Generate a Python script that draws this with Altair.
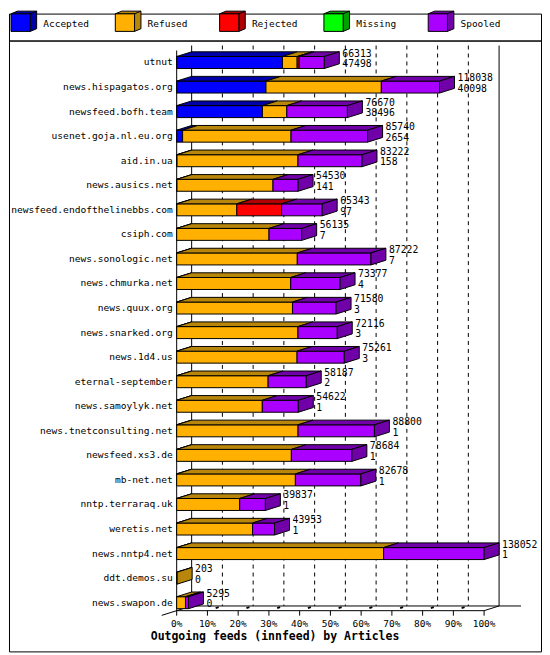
import pandas as pd
import altair as alt

# Outgoing innfeed peers, top to bottom
servers = [
    "utnut", "news.hispagatos.org", "newsfeed.bofh.team", "usenet.goja.nl.eu.org",
    "aid.in.ua", "news.ausics.net", "newsfeed.endofthelinebbs.com", "csiph.com",
    "news.sonologic.net", "news.chmurka.net", "news.quux.org", "news.snarked.org",
    "news.1d4.us", "eternal-september", "news.samoylyk.net", "news.tnetconsulting.net",
    "newsfeed.xs3.de", "mb-net.net", "nntp.terraraq.uk", "weretis.net",
    "news.nntp4.net", "ddt.demos.su", "news.swapon.de",
]
offered = [66313, 118038, 76670, 85740, 83222, 54530, 65343, 56135, 87222, 73377, 71580,
           72116, 75261, 58187, 54622, 88800, 78684, 82678, 39837, 43953, 138052, 203, 5295]
accepted = [47498, 40098, 38496, 2654, 158, 141, 97, 7, 7, 4, 3,
            3, 3, 2, 1, 1, 1, 1, 1, 1, 1, 0, 0]
refused = [6600, 51800, 10950, 48700, 54300, 43100, 26900, 41450, 54150, 51200, 52000,
           54450, 54050, 41050, 38450, 54500, 51500, 53300, 28280, 34050, 92900, 203, 3950]
rejected = [900, 0, 0, 0, 0, 0, 20100, 0, 0, 0, 0,
            0, 0, 0, 0, 0, 0, 0, 0, 0, 0, 0, 0]
missing = [0, 0, 0, 0, 0, 0, 0, 0, 0, 0, 0,
           0, 0, 0, 0, 0, 0, 0, 0, 0, 0, 0, 0]
spooled = [11315, 26140, 27224, 34386, 28764, 11289, 18246, 14678, 33065, 22173, 19577,
           17663, 21208, 17135, 16171, 34299, 27183, 29377, 11556, 9902, 45151, 0, 1345]

categories = ["Accepted", "Refused", "Rejected", "Missing", "Spooled"]
front_colors = ["#0000ff", "#ffb000", "#ff0000", "#00ff00", "#aa00ff"]
side_colors = ["#0000a8", "#b8860b", "#b00000", "#00a000", "#7000a8"]
percent_ticks = [0, 10, 20, 30, 40, 50, 60, 70, 80, 90, 100]
x_title = "Outgoing feeds (innfeed) by Articles"

MONO = "DejaVu Sans Mono"
W, H_LEGEND, H_MAIN = 533, 27, 612
AXIS_X, PX_PER_PCT = 168, 3.08
ROW_TOP, ROW_STEP = 22, 24.6
DEPTH_X = 15 / PX_PER_PCT
DEPTH_Y = 4.7 / ROW_STEP
HALF = 6 / ROW_STEP
FLOOR_FRONT = len(servers) - 1 + 8 / ROW_STEP
FLOOR_BACK = FLOOR_FRONT - DEPTH_Y
WALL_TOP = -17 / ROW_STEP
AXIS_TOP = -12 / ROW_STEP

side_names = [c + " side" for c in categories]
fill_scale = alt.Scale(domain=categories + side_names, range=front_colors + side_colors)
xscale = alt.Scale(domain=[-AXIS_X / PX_PER_PCT, (W - AXIS_X) / PX_PER_PCT], nice=False, zero=False)
yscale = alt.Scale(domain=[-ROW_TOP / ROW_STEP, (H_MAIN - ROW_TOP) / ROW_STEP],
                   reverse=True, nice=False, zero=False)

# ---- build the 3D faces -------------------------------------------------
full = max(offered)
fronts, tops, sides, labels = [], [], [], []
for i, name in enumerate(servers):
    parts = [accepted[i], refused[i], rejected[i], missing[i], spooled[i]]
    start, last = 0.0, None
    for cat, v in zip(categories, parts):
        if v <= 0:
            continue
        end = start + v / full * 100
        g = f"{i}-{cat}"
        fronts.append(dict(x=start, x2=end, y=i - HALF, y2=i + HALF, face=cat))
        tops.append(dict(g=g, x=start, x2=end, y=i - HALF, face=cat + " side"))
        tops.append(dict(g=g, x=start + DEPTH_X, x2=end + DEPTH_X, y=i - HALF - DEPTH_Y,
                         face=cat + " side"))
        start, last = end, cat
    sides.append(dict(g=i, x=start, y=i + HALF, y2=i - HALF, face=last + " side"))
    sides.append(dict(g=i, x=start + DEPTH_X, y=i + HALF - DEPTH_Y, y2=i - HALF - DEPTH_Y,
                      face=last + " side"))
    labels.append(dict(x=start + DEPTH_X, y=i - 9 / ROW_STEP, label=str(offered[i])))
    labels.append(dict(x=start + DEPTH_X, y=i + 1.7 / ROW_STEP, label=str(accepted[i])))

walls = pd.DataFrame([
    dict(x=0, x2=0, y=AXIS_TOP, y2=FLOOR_FRONT),
    dict(x=DEPTH_X, x2=DEPTH_X, y=WALL_TOP, y2=FLOOR_BACK),
    dict(x=100 + DEPTH_X, x2=100 + DEPTH_X, y=WALL_TOP, y2=FLOOR_BACK),
    dict(x=0, x2=100, y=FLOOR_FRONT, y2=FLOOR_FRONT),
    dict(x=DEPTH_X, x2=100 + DEPTH_X + 22 / PX_PER_PCT, y=FLOOR_BACK, y2=FLOOR_BACK),
    dict(x=-DEPTH_X, x2=DEPTH_X, y=FLOOR_FRONT + DEPTH_Y, y2=FLOOR_BACK),
    dict(x=100, x2=100 + DEPTH_X, y=FLOOR_FRONT, y2=FLOOR_BACK),
])
grid = pd.DataFrame([dict(x=t + DEPTH_X, x2=t + DEPTH_X, y=WALL_TOP, y2=FLOOR_BACK)
                     for t in percent_ticks[1:-1]])
floor_marks = pd.DataFrame([dict(x=t + 0.55 * DEPTH_X, x2=t + 0.75 * DEPTH_X,
                                 y=FLOOR_FRONT - 0.55 * DEPTH_Y, y2=FLOOR_FRONT - 0.75 * DEPTH_Y)
                            for t in percent_ticks[1:-1]])
ticks = pd.DataFrame({"x": percent_ticks, "y": FLOOR_FRONT, "y2": FLOOR_FRONT + 5 / ROW_STEP,
                      "label": [f"{t}%" for t in percent_ticks]})
names = pd.DataFrame({"x": 0, "y": list(range(len(servers))), "label": servers})
title_df = pd.DataFrame({"x": [-26 / PX_PER_PCT], "y": [FLOOR_FRONT + 26 / ROW_STEP],
                         "label": [x_title]})

def X(**kw):
    return alt.X("x:Q", scale=xscale, axis=None, **kw)

def Y(**kw):
    return alt.Y("y:Q", scale=yscale, axis=None, **kw)

fill = alt.Fill("face:N", scale=fill_scale, legend=None)

wall_lines = alt.Chart(walls).mark_rule(color="black", strokeWidth=1).encode(
    x=X(), x2="x2:Q", y=Y(), y2="y2:Q")
grid_lines = alt.Chart(grid).mark_rule(color="black", strokeWidth=1, strokeDash=[4, 4]).encode(
    x=X(), x2="x2:Q", y=Y(), y2="y2:Q")
floor_ticks = alt.Chart(floor_marks).mark_rule(color="black", strokeWidth=2).encode(
    x=X(), x2="x2:Q", y=Y(), y2="y2:Q")
x_ticks = alt.Chart(ticks).mark_rule(color="black", strokeWidth=1).encode(
    x=X(), y=Y(), y2="y2:Q")
x_labels = alt.Chart(ticks).mark_text(
    align="center", baseline="middle", dy=13, font=MONO, fontSize=9.5, color="black").encode(
    x=X(), y=Y(), text="label:N")
y_labels = alt.Chart(names).mark_text(
    align="right", baseline="middle", dx=-4, font=MONO, fontSize=9.6, color="black").encode(
    x=X(), y=Y(), text="label:N")
x_title_text = alt.Chart(title_df).mark_text(
    align="left", baseline="middle", font=MONO, fontSize=11.5, fontWeight="bold",
    color="black").encode(x=X(), y=Y(), text="label:N")
front_faces = alt.Chart(pd.DataFrame(fronts)).mark_rect(stroke="black", strokeWidth=1).encode(
    x=X(), x2="x2:Q", y=Y(), y2="y2:Q", fill=fill)
top_faces = alt.Chart(pd.DataFrame(tops)).mark_area(
    orient="horizontal", stroke="black", strokeWidth=1, opacity=1).encode(
    x=X(stack=False), x2="x2:Q", y=Y(), detail="g:N", fill=fill)
side_faces = alt.Chart(pd.DataFrame(sides)).mark_area(
    orient="vertical", stroke="black", strokeWidth=1, opacity=1).encode(
    x=X(), y=Y(stack=False), y2="y2:Q", detail="g:N", fill=fill)
value_text = alt.Chart(pd.DataFrame(labels)).mark_text(
    align="left", baseline="middle", dx=3, font=MONO, fontSize=9.8, color="black").encode(
    x=X(), y=Y(), text="label:N")

main = alt.layer(wall_lines, grid_lines, floor_ticks, x_ticks, x_labels, y_labels,
                 x_title_text, front_faces, top_faces, side_faces,
                 value_text).properties(width=W, height=H_MAIN)

# ---- legend with 3D cube icons -------------------------------------------
CUBE_BACK = "M -1 -0.37 L -0.5 -0.58 L 1 -0.58 L 1 0.79 L 0.5 1 L 0.5 -0.37 Z M 0.5 -0.37 L 1 -0.58"
CUBE_FRONT = "M -1 -0.37 L 0.5 -0.37 L 0.5 1 L -1 1 Z"
legend_df = pd.DataFrame({"cat": categories, "side": side_names})
lx = alt.X("cat:N", scale=alt.Scale(type="point", domain=categories,
                                    range=[14.85, 14.85 + 4 * 104.5], padding=0), axis=None)
cube_back = alt.Chart(legend_df).mark_point(
    shape=CUBE_BACK, size=660, filled=True, opacity=1, stroke="black", strokeWidth=1).encode(
    x=lx, y=alt.value(5), fill=alt.Fill("side:N", scale=fill_scale, legend=None))
cube_front = alt.Chart(legend_df).mark_point(
    shape=CUBE_FRONT, size=660, filled=True, opacity=1, stroke="black", strokeWidth=1).encode(
    x=lx, y=alt.value(5), fill=alt.Fill("cat:N", scale=fill_scale, legend=None))
legend_text = alt.Chart(legend_df).mark_text(
    align="left", baseline="middle", dx=19.5, font=MONO, fontSize=9.5, color="black").encode(
    x=lx, y=alt.value(10), text="cat:N")
legend = alt.layer(cube_back, cube_front, legend_text).properties(width=W, height=H_LEGEND)

chart = alt.vconcat(legend, main, spacing=0, bounds="flush", padding=0,
                    background="white").configure_view(stroke="black", strokeWidth=1)

chart.save("out.html", embed_options={"renderer": "svg", "actions": False})
